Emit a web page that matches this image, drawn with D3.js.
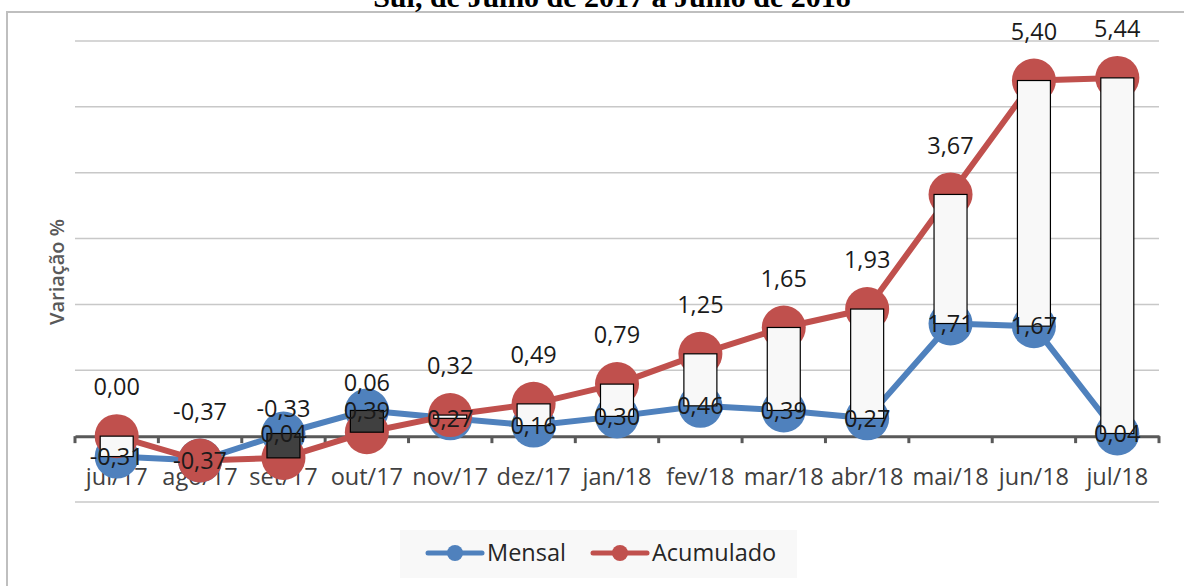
<!DOCTYPE html>
<html>
<head>
<meta charset="utf-8">
<script src="https://cdn.jsdelivr.net/npm/d3@7"></script>
<style>
  body { margin: 0; background: #fff; }
  svg { display: block; }
</style>
</head>
<body>
<div id="chart"></div>
<script>
const w = 1184, h = 586;

// dados
const meses = ["jul/17", "ago/17", "set/17", "out/17", "nov/17", "dez/17", "jan/18", "fev/18", "mar/18", "abr/18", "mai/18", "jun/18", "jul/18"];
const mensal = [-0.31, -0.37, 0.04, 0.39, 0.27, 0.16, 0.30, 0.46, 0.39, 0.27, 1.71, 1.67, 0.04];
const acumulado = [0.00, -0.37, -0.33, 0.06, 0.32, 0.49, 0.79, 1.25, 1.65, 1.93, 3.67, 5.40, 5.44];
const yTicks = [-1, 0, 1, 2, 3, 4, 5, 6];

const titulo = "Sul, de Julho de 2017 a Julho de 2018";
const font = "'Open Sans', Lato, sans-serif";
const fs = 23.5;
const azul = "#4f81bd", vermelho = "#c0504d";

const m = {l: 75, r: 1159, t: 41, b: 502};

const fmt = v => v.toFixed(2).replace(".", ",");

const svg = d3.select("#chart").append("svg").attr("width", w).attr("height", h);

// borda do gráfico
svg.append("rect")
  .attr("x", 7).attr("y", 12).attr("width", 1200).attr("height", 600)
  .attr("fill", "#fff").attr("stroke", "#bfbfbf").attr("stroke-width", 2);

svg.append("text")
  .attr("x", 612).attr("y", 7)
  .attr("text-anchor", "middle")
  .attr("font-family", "'Liberation Serif', 'Times New Roman', serif")
  .attr("font-weight", "bold").attr("font-size", 30)
  .text(titulo);

const x = d3.scaleBand().domain(meses).range([m.l, m.r]);
const y = d3.scaleLinear().domain([-1, 6]).range([m.b, m.t]);
const cx = d => x(d) + x.bandwidth() / 2;

// grade
svg.append("g")
  .selectAll("line")
  .data(yTicks.filter(d => d !== 0))
  .join("line")
    .attr("x1", m.l).attr("x2", m.r)
    .attr("y1", d => y(d)).attr("y2", d => y(d))
    .attr("stroke", "#c8c8c8").attr("stroke-width", 1.5);

// eixo x
const xAxis = svg.append("g")
  .attr("transform", `translate(0,${y(0)})`)
  .call(d3.axisBottom(x).tickSize(0).tickPadding(32));
xAxis.select(".domain").attr("stroke", "#595959").attr("stroke-width", 3);
xAxis.selectAll("text")
  .attr("font-family", font).attr("font-size", fs).attr("fill", "#404040");

svg.append("g")
  .selectAll("line")
  .data(d3.range(meses.length + 1))
  .join("line")
    .attr("x1", i => m.l + i * x.step()).attr("x2", i => m.l + i * x.step())
    .attr("y1", y(0)).attr("y2", y(0) + 7)
    .attr("stroke", "#595959").attr("stroke-width", 3);

// título do eixo y
svg.append("text")
  .attr("transform", `translate(64,272) rotate(-90)`)
  .attr("text-anchor", "middle")
  .attr("font-family", font).attr("font-size", 20).attr("font-weight", 600)
  .attr("fill", "#595959")
  .text("Variação %");

// linhas e marcadores
const series = [
  {name: "Mensal", values: mensal, color: azul},
  {name: "Acumulado", values: acumulado, color: vermelho}
];
const line = d3.line().x((d, i) => cx(meses[i])).y(d => y(d));

series.forEach(s => {
  const g = svg.append("g");
  g.append("path")
    .attr("d", line(s.values))
    .attr("fill", "none").attr("stroke", s.color).attr("stroke-width", 6)
    .attr("stroke-linejoin", "round");
  g.selectAll("circle")
    .data(s.values)
    .join("circle")
      .attr("cx", (d, i) => cx(meses[i]))
      .attr("cy", d => y(d))
      .attr("r", 22)
      .attr("fill", s.color);
});

// barras de alta/baixa
const bw = 33;
svg.append("g")
  .selectAll("rect")
  .data(meses)
  .join("rect")
    .attr("x", d => cx(d) - bw / 2)
    .attr("width", bw)
    .attr("y", (d, i) => y(Math.max(mensal[i], acumulado[i])))
    .attr("height", (d, i) => Math.abs(y(mensal[i]) - y(acumulado[i])))
    .attr("fill", (d, i) => acumulado[i] >= mensal[i] ? "#f8f8f8" : "#404040")
    .attr("stroke", "#000").attr("stroke-width", 1.2);

// rótulos
svg.append("g")
  .selectAll("text")
  .data(mensal)
  .join("text")
    .attr("x", (d, i) => cx(meses[i]))
    .attr("y", d => y(d))
    .attr("dy", "0.35em")
    .attr("text-anchor", "middle")
    .attr("font-family", font).attr("font-size", fs).attr("fill", "#1a1a1a")
    .text(fmt);

svg.append("g")
  .selectAll("text")
  .data(acumulado)
  .join("text")
    .attr("x", (d, i) => cx(meses[i]))
    .attr("y", d => y(d) - 49)
    .attr("dy", "0.35em")
    .attr("text-anchor", "middle")
    .attr("font-family", font).attr("font-size", fs).attr("fill", "#1a1a1a")
    .text(fmt);

// legenda
const leg = svg.append("g");
leg.append("rect")
  .attr("x", 400).attr("y", 530).attr("width", 397).attr("height", 48)
  .attr("fill", "#f8f8f8");
const legItems = leg.selectAll("g")
  .data(series)
  .join("g")
    .attr("transform", (d, i) => `translate(${[428, 593][i]},553)`);
legItems.append("line")
  .attr("x1", 0).attr("x2", 54)
  .attr("stroke", d => d.color).attr("stroke-width", 5).attr("stroke-linecap", "round");
legItems.append("circle")
  .attr("cx", 27).attr("r", 8).attr("fill", d => d.color);
legItems.append("text")
  .attr("x", 59).attr("dy", "0.35em")
  .attr("font-family", font).attr("font-size", fs).attr("fill", "#262626")
  .text(d => d.name);
</script>
</body>
</html>
